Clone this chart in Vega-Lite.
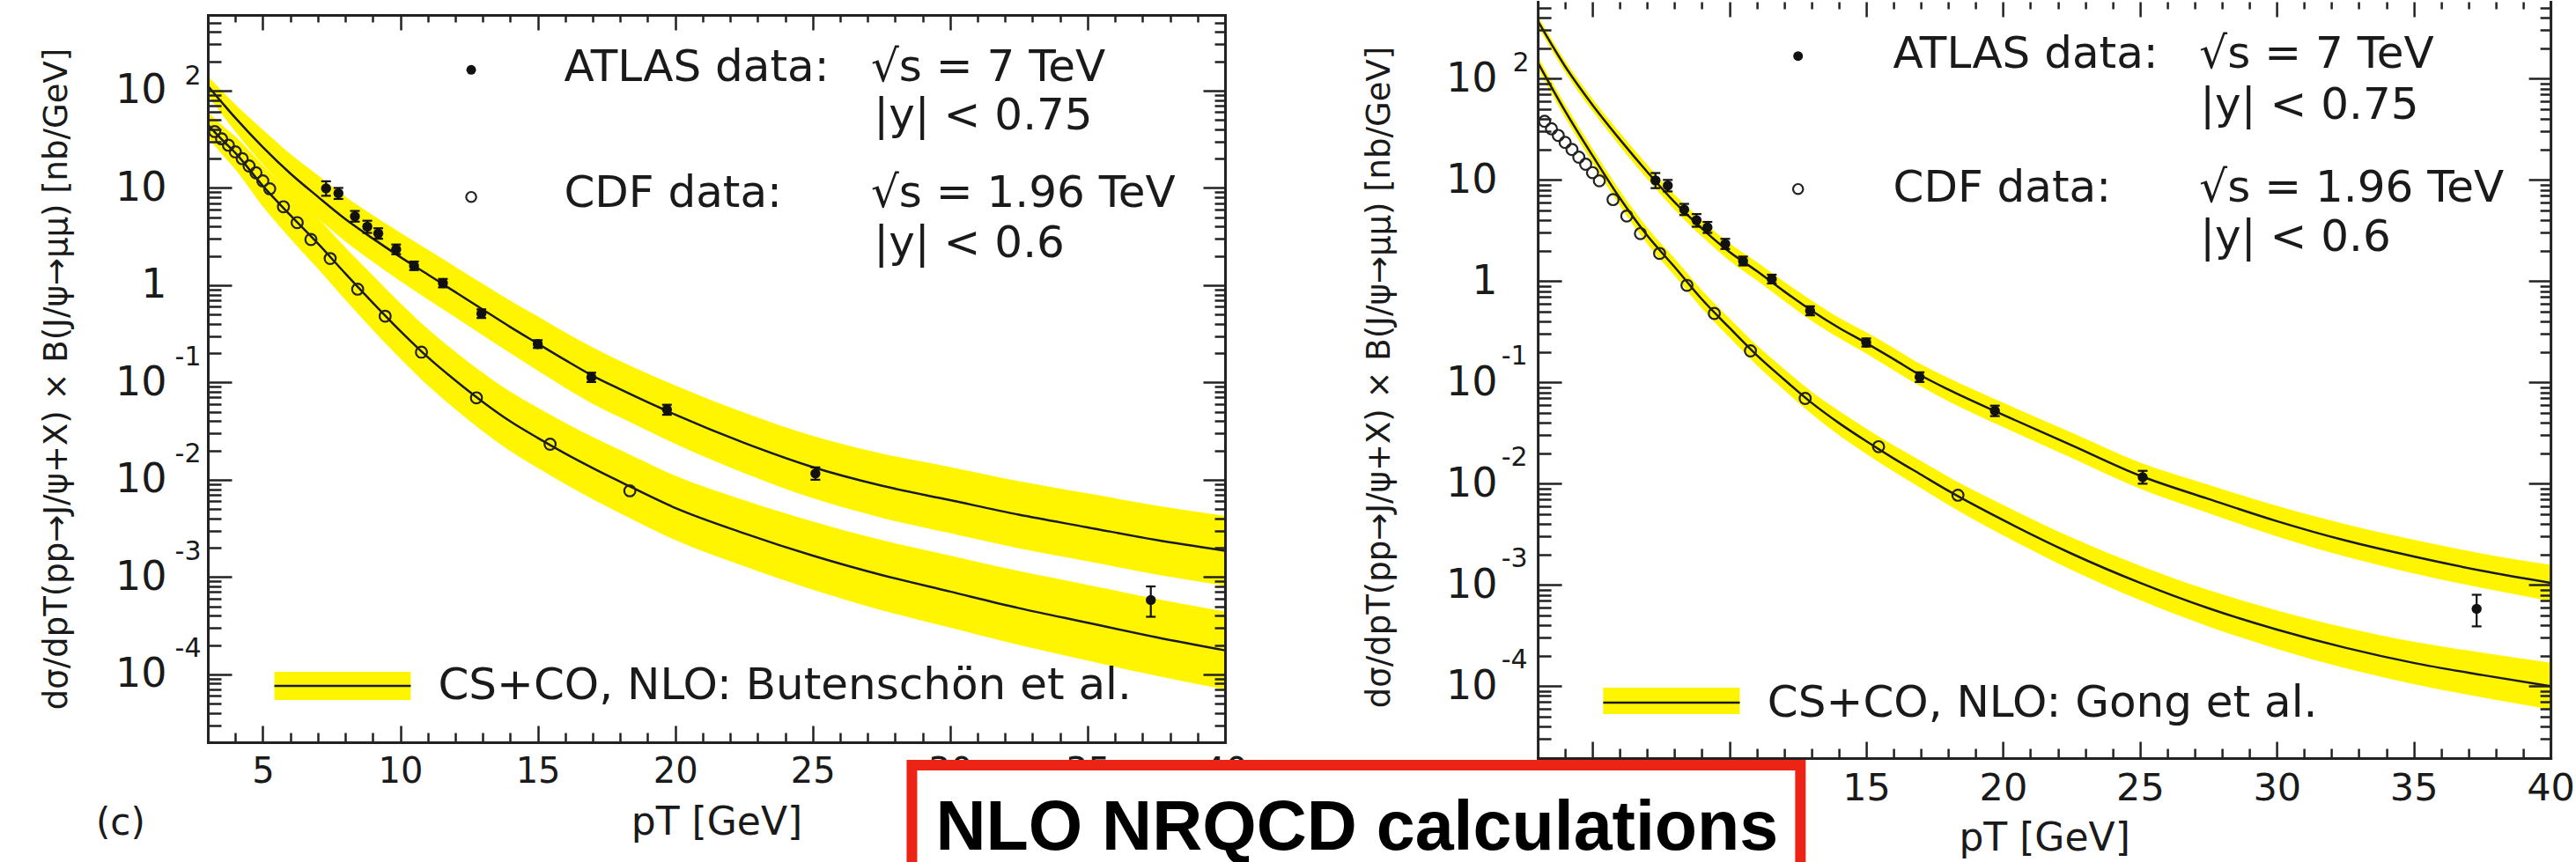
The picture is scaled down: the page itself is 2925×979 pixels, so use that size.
{
"$schema":"https://vega.github.io/schema/vega-lite/v6.json",
"background":"white",
"padding":{"left":45,"top":0,"right":0,"bottom":0},
"config":{
 "view":{"stroke":null},
 "axis":{"minExtent":0,"grid":false,"labelFlush":false,"labelOverlap":false,"labelBound":false,"tickColor":"#222","tickWidth":2.5,"domainColor":"#222","domainWidth":3,"domainCap":"square","labelFont":"DejaVu Sans","titleFont":"DejaVu Sans","labelColor":"#1a1a1a","titleColor":"#1a1a1a","titleFontWeight":"normal","titlePadding":0},
 "axisX":{"minExtent":0},
 "axisY":{"minExtent":0}
},
"datasets":{
 "atlas":[
  {"pT":7.3,"y":9.9,"ylo":8.3,"yhi":11.7},
  {"pT":7.75,"y":8.8,"ylo":7.7,"yhi":10.0},
  {"pT":8.35,"y":5.1,"ylo":4.5,"yhi":5.8},
  {"pT":8.8,"y":4.0,"ylo":3.45,"yhi":4.6},
  {"pT":9.2,"y":3.4,"ylo":3.0,"yhi":3.85},
  {"pT":9.85,"y":2.33,"ylo":2.08,"yhi":2.62},
  {"pT":10.5,"y":1.58,"ylo":1.43,"yhi":1.75},
  {"pT":11.55,"y":1.05,"ylo":0.95,"yhi":1.16},
  {"pT":12.95,"y":0.51,"ylo":0.46,"yhi":0.565},
  {"pT":15.0,"y":0.248,"ylo":0.226,"yhi":0.272},
  {"pT":16.95,"y":0.113,"ylo":0.101,"yhi":0.126},
  {"pT":19.7,"y":0.0525,"ylo":0.0465,"yhi":0.059},
  {"pT":25.1,"y":0.0116,"ylo":0.01,"yhi":0.0134},
  {"pT":37.3,"y":0.00058,"ylo":0.00039,"yhi":0.0008}
 ],
 "cdf":[
  {"pT":3.25,"y":38},{"pT":3.5,"y":32},{"pT":3.75,"y":27.5},{"pT":4.0,"y":23.5},
  {"pT":4.25,"y":20},{"pT":4.5,"y":16.8},{"pT":4.75,"y":14.3},{"pT":5.0,"y":11.8},
  {"pT":5.25,"y":9.8},{"pT":5.75,"y":6.4},{"pT":6.25,"y":4.4},{"pT":6.75,"y":2.95},
  {"pT":7.45,"y":1.88},{"pT":8.45,"y":0.91},{"pT":9.45,"y":0.48},{"pT":10.77,"y":0.205},
  {"pT":12.77,"y":0.0695},{"pT":15.45,"y":0.0232},{"pT":18.35,"y":0.0077}
 ],
 "bu_atlas":[
  {"pT":3,"y":112.2,"lo":89.1,"hi":141},
  {"pT":4,"y":52.5,"lo":38.0,"hi":72.4},
  {"pT":5,"y":26.3,"lo":17.4,"hi":39.8},
  {"pT":6,"y":14.1,"lo":8.91,"hi":22.4},
  {"pT":7,"y":8.13,"lo":4.9,"hi":13.5},
  {"pT":8,"y":4.79,"lo":2.82,"hi":8.13},
  {"pT":9,"y":3.02,"lo":1.74,"hi":5.25},
  {"pT":10,"y":1.95,"lo":1.1,"hi":3.47},
  {"pT":11,"y":1.29,"lo":0.716,"hi":2.32},
  {"pT":12,"y":0.851,"lo":0.468,"hi":1.55},
  {"pT":13,"y":0.562,"lo":0.305,"hi":1.035},
  {"pT":14,"y":0.372,"lo":0.2,"hi":0.692},
  {"pT":15,"y":0.251,"lo":0.132,"hi":0.479},
  {"pT":16,"y":0.17,"lo":0.0881,"hi":0.327},
  {"pT":17,"y":0.117,"lo":0.0603,"hi":0.229},
  {"pT":18,"y":0.0851,"lo":0.0437,"hi":0.166},
  {"pT":20,"y":0.0468,"lo":0.0234,"hi":0.0933},
  {"pT":22.5,"y":0.024,"lo":0.0117,"hi":0.049},
  {"pT":25,"y":0.0135,"lo":0.00646,"hi":0.0282},
  {"pT":27.5,"y":0.00871,"lo":0.00407,"hi":0.0186},
  {"pT":30,"y":0.00617,"lo":0.00282,"hi":0.0135},
  {"pT":32.5,"y":0.00437,"lo":0.00197,"hi":0.00966},
  {"pT":35,"y":0.00324,"lo":0.00145,"hi":0.00724},
  {"pT":37.5,"y":0.0024,"lo":0.00106,"hi":0.00543},
  {"pT":40,"y":0.00186,"lo":0.000813,"hi":0.00427}
 ],
 "bu_cdf":[
  {"pT":3,"y":44.7,"lo":33.1,"hi":60.3},
  {"pT":3.5,"y":31.6,"lo":22.4,"hi":44.7},
  {"pT":4,"y":22.9,"lo":15.5,"hi":33.9},
  {"pT":5,"y":10.5,"lo":6.46,"hi":17.0},
  {"pT":6,"y":5.25,"lo":3.02,"hi":9.12},
  {"pT":7,"y":2.69,"lo":1.48,"hi":4.9},
  {"pT":8,"y":1.32,"lo":0.708,"hi":2.45},
  {"pT":9,"y":0.661,"lo":0.347,"hi":1.26},
  {"pT":10,"y":0.339,"lo":0.176,"hi":0.653},
  {"pT":11,"y":0.182,"lo":0.0933,"hi":0.355},
  {"pT":12,"y":0.105,"lo":0.0531,"hi":0.207},
  {"pT":13,"y":0.0631,"lo":0.0316,"hi":0.126},
  {"pT":14,"y":0.0398,"lo":0.0197,"hi":0.0804},
  {"pT":15,"y":0.0269,"lo":0.0132,"hi":0.055},
  {"pT":16,"y":0.0186,"lo":0.00902,"hi":0.0385},
  {"pT":17,"y":0.0132,"lo":0.00631,"hi":0.0275},
  {"pT":18,"y":0.00955,"lo":0.00452,"hi":0.0202},
  {"pT":20,"y":0.00513,"lo":0.0024,"hi":0.011},
  {"pT":22.5,"y":0.00282,"lo":0.00129,"hi":0.00617},
  {"pT":25,"y":0.00166,"lo":0.000741,"hi":0.00372},
  {"pT":27.5,"y":0.00105,"lo":0.000457,"hi":0.0024},
  {"pT":30,"y":0.000708,"lo":0.000302,"hi":0.00166},
  {"pT":32.5,"y":0.000479,"lo":0.0002,"hi":0.00115},
  {"pT":35,"y":0.000339,"lo":0.000138,"hi":0.000832},
  {"pT":37.5,"y":0.00024,"lo":0.0000966,"hi":0.000596},
  {"pT":40,"y":0.000176,"lo":0.00007,"hi":0.000442}
 ],
 "go_atlas":[
  {"pT":3,"y":372,"lo":331,"hi":417},
  {"pT":4,"y":132,"lo":116,"hi":150},
  {"pT":5,"y":55.0,"lo":47.9,"hi":63.1},
  {"pT":6,"y":25.1,"lo":21.6,"hi":29.2},
  {"pT":7,"y":12.0,"lo":10.2,"hi":14.1},
  {"pT":8,"y":6.03,"lo":5.07,"hi":7.16},
  {"pT":9,"y":3.31,"lo":2.75,"hi":3.98},
  {"pT":10,"y":1.95,"lo":1.6,"hi":2.37},
  {"pT":11,"y":1.26,"lo":1.02,"hi":1.55},
  {"pT":12,"y":0.794,"lo":0.638,"hi":0.989},
  {"pT":13,"y":0.513,"lo":0.407,"hi":0.646},
  {"pT":14,"y":0.347,"lo":0.275,"hi":0.437},
  {"pT":15,"y":0.245,"lo":0.193,"hi":0.313},
  {"pT":16,"y":0.17,"lo":0.132,"hi":0.219},
  {"pT":17,"y":0.117,"lo":0.0912,"hi":0.151},
  {"pT":18,"y":0.0851,"lo":0.0653,"hi":0.111},
  {"pT":20,"y":0.0479,"lo":0.0363,"hi":0.0631},
  {"pT":22.5,"y":0.024,"lo":0.018,"hi":0.032},
  {"pT":25,"y":0.012,"lo":0.00891,"hi":0.0162},
  {"pT":27.5,"y":0.00708,"lo":0.00513,"hi":0.00977},
  {"pT":30,"y":0.00427,"lo":0.00302,"hi":0.00603},
  {"pT":32.5,"y":0.00275,"lo":0.00191,"hi":0.00398},
  {"pT":35,"y":0.00191,"lo":0.0013,"hi":0.00279},
  {"pT":37.5,"y":0.00138,"lo":0.000933,"hi":0.00204},
  {"pT":40,"y":0.00105,"lo":0.000692,"hi":0.00158}
 ],
 "go_cdf":[
  {"pT":3,"y":145,"lo":126,"hi":166},
  {"pT":4,"y":47.9,"lo":41.2,"hi":55.6},
  {"pT":5,"y":17.4,"lo":14.8,"hi":20.4},
  {"pT":6,"y":6.61,"lo":5.56,"hi":7.85},
  {"pT":7,"y":2.82,"lo":2.34,"hi":3.39},
  {"pT":8,"y":1.38,"lo":1.135,"hi":1.68},
  {"pT":9,"y":0.661,"lo":0.537,"hi":0.813},
  {"pT":10,"y":0.347,"lo":0.279,"hi":0.431},
  {"pT":11,"y":0.186,"lo":0.148,"hi":0.234},
  {"pT":12,"y":0.107,"lo":0.0841,"hi":0.136},
  {"pT":13,"y":0.0631,"lo":0.049,"hi":0.0813},
  {"pT":14,"y":0.0398,"lo":0.0302,"hi":0.0525},
  {"pT":15,"y":0.0263,"lo":0.0197,"hi":0.0351},
  {"pT":16,"y":0.0178,"lo":0.0132,"hi":0.024},
  {"pT":17,"y":0.0123,"lo":0.00902,"hi":0.0168},
  {"pT":18,"y":0.00851,"lo":0.00617,"hi":0.0117},
  {"pT":20,"y":0.00437,"lo":0.00309,"hi":0.00617},
  {"pT":22.5,"y":0.00204,"lo":0.00141,"hi":0.00295},
  {"pT":25,"y":0.00105,"lo":0.000708,"hi":0.00155},
  {"pT":27.5,"y":0.000589,"lo":0.000389,"hi":0.000891},
  {"pT":30,"y":0.000363,"lo":0.000234,"hi":0.000562},
  {"pT":32.5,"y":0.00024,"lo":0.000151,"hi":0.00038},
  {"pT":35,"y":0.00017,"lo":0.000105,"hi":0.000275},
  {"pT":37.5,"y":0.000129,"lo":0.0000776,"hi":0.000214},
  {"pT":40,"y":0.0001,"lo":0.0000589,"hi":0.00017}
 ],
 "leg_bu_text":[
  {"pT":15.955,"y":125.7,"label":"ATLAS data:"},
  {"pT":27.12,"y":125.7,"label":"√s = 7 TeV"},
  {"pT":27.23,"y":39.95,"label":"|y| < 0.75"},
  {"pT":15.955,"y":6.38,"label":"CDF data:"},
  {"pT":27.12,"y":6.38,"label":"√s = 1.96 TeV"},
  {"pT":27.23,"y":1.945,"label":"|y| < 0.6"},
  {"pT":11.374,"y":0.0000555,"label":"CS+CO, NLO: Butenschön et al."}
 ],
 "leg_go_text":[
  {"pT":15.98,"y":128.1,"label":"ATLAS data:"},
  {"pT":27.17,"y":128.1,"label":"√s = 7 TeV"},
  {"pT":27.2,"y":40.1,"label":"|y| < 0.75"},
  {"pT":15.98,"y":6.11,"label":"CDF data:"},
  {"pT":27.17,"y":6.11,"label":"√s = 1.96 TeV"},
  {"pT":27.2,"y":1.99,"label":"|y| < 0.6"},
  {"pT":11.39,"y":0.0000503,"label":"CS+CO, NLO: Gong et al."}
 ]
},
"hconcat":[
 {
  "width":1155,"height":841,
  "resolve":{"axis":{"x":"independent","y":"independent"}},
  "layer":[
   {"data":{"name":"bu_atlas"},"mark":{"type":"area","color":"#FFF500","interpolate":"monotone"},
    "encoding":{
     "x":{"field":"pT","type":"quantitative","scale":{"domain":[3,40],"nice":false,"zero":false},
      "axis":{"orient":"bottom","values":[5,10,15,20,25,30,35,40],"ticks":false,"domain":false,"labelFontSize":40,"labelPadding":13,"title":"pT [GeV]","titleFontSize":44,"titleX":577.5,"titleY":104,"titleBaseline":"alphabetic","titleAlign":"center","zindex":0}},
     "y":{"field":"lo","type":"quantitative","scale":{"type":"log","domain":[0.00002,600],"range":[841,15],"nice":false},
      "axis":{"orient":"left","values":[0.0001,0.001,0.01,0.1,1,10,100],"ticks":false,"domain":false,"labelExpr":"datum.value == 1 ? '1' : '10'","labelFontSize":46,"labelPadding":47,"labelBaseline":"middle","title":"dσ/dpT(pp→J/ψ+X) × B(J/ψ→μμ)  [nb/GeV]","titleFontSize":37,"titleX":-152.6,"titleY":428,"titleAngle":270,"titleBaseline":"bottom","titleAlign":"center","zindex":0}},
     "y2":{"field":"hi"}}},
   {"data":{"name":"bu_cdf"},"mark":{"type":"area","color":"#FFF500","interpolate":"monotone"},
    "encoding":{
     "x":{"field":"pT","type":"quantitative","scale":{"domain":[3,40],"nice":false,"zero":false},
      "axis":{"orient":"bottom","values":[5,10,15,20,25,30,35,40],"labels":false,"tickSize":-19,"domain":true,"title":"(c)","titleFontSize":42,"titleX":-99.6,"titleY":104,"titleBaseline":"alphabetic","titleAlign":"center","zindex":1}},
     "y":{"field":"lo","type":"quantitative","scale":{"type":"log","domain":[0.00002,600],"range":[841,15],"nice":false},
      "axis":{"orient":"left","values":[0.0001,0.001,0.01,0.1,1,10,100],"labels":false,"tickSize":-27,"domain":true,"title":null,"zindex":1}},
     "y2":{"field":"hi"}}},
   {"data":{"name":"bu_atlas"},"mark":{"type":"line","color":"#1a1a1a","strokeWidth":2.5,"interpolate":"monotone"},
    "encoding":{
     "x":{"field":"pT","type":"quantitative","scale":{"domain":[3,40],"nice":false,"zero":false},
      "axis":{"orient":"bottom","values":[4,6,7,8,9,11,12,13,14,16,17,18,19,21,22,23,24,26,27,28,29,31,32,33,34,36,37,38,39],"labels":false,"tickSize":-11,"domain":false,"title":null,"zindex":1}},
     "y":{"field":"y","type":"quantitative","scale":{"type":"log","domain":[0.00002,600],"range":[841,15],"nice":false},
      "axis":{"orient":"left","values":[0.00003,0.00004,0.00005,0.00006,0.00007,0.00008,0.00009,0.0002,0.0003,0.0004,0.0005,0.0006,0.0007,0.0008,0.0009,0.002,0.003,0.004,0.005,0.006,0.007,0.008,0.009,0.02,0.03,0.04,0.05,0.06,0.07,0.08,0.09,0.2,0.3,0.4,0.5,0.6,0.7,0.8,0.9,2,3,4,5,6,7,8,9,20,30,40,50,60,70,80,90,200,300,400,500],"labels":false,"tickSize":-15,"domain":false,"title":null,"zindex":1}}}},
   {"data":{"name":"bu_cdf"},"mark":{"type":"line","color":"#1a1a1a","strokeWidth":2.5,"interpolate":"monotone"},
    "encoding":{
     "x":{"field":"pT","type":"quantitative","scale":{"domain":[3,40],"nice":false,"zero":false},
      "axis":{"orient":"top","offset":-15,"values":[5,10,15,20,25,30,35,40],"labels":false,"tickSize":-17,"domain":true,"title":null,"zindex":1}},
     "y":{"field":"y","type":"quantitative","scale":{"type":"log","domain":[0.00002,600],"range":[841,15],"nice":false},
      "axis":{"orient":"right","values":[0.0001,0.001,0.01,0.1,1,10,100],"labels":false,"tickSize":-25,"domain":true,"title":null,"zindex":1}}}},
   {"data":{"name":"atlas"},"mark":{"type":"rule","color":"#111","strokeWidth":2.2},
    "encoding":{
     "x":{"field":"pT","type":"quantitative","scale":{"domain":[3,40],"nice":false,"zero":false},
      "axis":{"orient":"top","offset":-15,"values":[4,6,7,8,9,11,12,13,14,16,17,18,19,21,22,23,24,26,27,28,29,31,32,33,34,36,37,38,39],"labels":false,"tickSize":-8,"domain":false,"title":null,"zindex":1}},
     "y":{"field":"ylo","type":"quantitative","scale":{"type":"log","domain":[0.00002,600],"range":[841,15],"nice":false},
      "axis":{"orient":"right","values":[0.00003,0.00004,0.00005,0.00006,0.00007,0.00008,0.00009,0.0002,0.0003,0.0004,0.0005,0.0006,0.0007,0.0008,0.0009,0.002,0.003,0.004,0.005,0.006,0.007,0.008,0.009,0.02,0.03,0.04,0.05,0.06,0.07,0.08,0.09,0.2,0.3,0.4,0.5,0.6,0.7,0.8,0.9,2,3,4,5,6,7,8,9,20,30,40,50,60,70,80,90,200,300,400,500],"labels":false,"tickSize":-12,"domain":false,"title":null,"zindex":1}},
     "y2":{"field":"yhi"}}},
   {"data":{"name":"atlas"},"mark":{"type":"tick","orient":"horizontal","size":11,"thickness":2.2,"color":"#111","opacity":1},
    "encoding":{
     "x":{"field":"pT","type":"quantitative","scale":{"domain":[3,40],"nice":false,"zero":false},"axis":null},
     "y":{"field":"ylo","type":"quantitative","scale":{"type":"log","domain":[0.00002,600],"range":[841,15],"nice":false},
      "axis":{"orient":"left","values":[100],"ticks":false,"domain":false,"labelExpr":"'2'","labelFontSize":30,"labelPadding":8,"labelOffset":-16,"labelBaseline":"middle","title":null}}}},
   {"data":{"name":"atlas"},"mark":{"type":"tick","orient":"horizontal","size":11,"thickness":2.2,"color":"#111","opacity":1},
    "encoding":{
     "x":{"field":"pT","type":"quantitative","scale":{"domain":[3,40],"nice":false,"zero":false},"axis":null},
     "y":{"field":"yhi","type":"quantitative","scale":{"type":"log","domain":[0.00002,600],"range":[841,15],"nice":false},
      "axis":{"orient":"left","values":[0.0001,0.001,0.01,0.1],"ticks":false,"domain":false,"labelExpr":"datum.value < 0.0005 ? '-4' : datum.value < 0.005 ? '-3' : datum.value < 0.05 ? '-2' : '-1'","labelFontSize":30,"labelPadding":8,"labelOffset":-29,"labelBaseline":"middle","title":null}}}},
   {"data":{"name":"atlas"},"mark":{"type":"point","shape":"circle","filled":true,"size":130,"color":"#111","opacity":1},
    "encoding":{
     "x":{"field":"pT","type":"quantitative","scale":{"domain":[3,40],"nice":false,"zero":false},"axis":null},
     "y":{"field":"y","type":"quantitative","scale":{"type":"log","domain":[0.00002,600],"range":[841,15],"nice":false},"axis":null}}},
   {"data":{"name":"cdf"},"mark":{"type":"point","shape":"circle","filled":false,"size":160,"color":"#222","strokeWidth":2.2,"opacity":1},
    "encoding":{
     "x":{"field":"pT","type":"quantitative","scale":{"domain":[3,40],"nice":false,"zero":false},"axis":null},
     "y":{"field":"y","type":"quantitative","scale":{"type":"log","domain":[0.00002,600],"range":[841,15],"nice":false},"axis":null}}},
   {"data":{"values":[{"pT":5.42,"pT2":10.38,"lo":0.0000544,"hi":0.000106}]},"mark":{"type":"rect","color":"#FFF500"},
    "encoding":{
     "x":{"field":"pT","type":"quantitative","scale":{"domain":[3,40],"nice":false,"zero":false},"axis":null},
     "x2":{"field":"pT2"},
     "y":{"field":"lo","type":"quantitative","scale":{"type":"log","domain":[0.00002,600],"range":[841,15],"nice":false},"axis":null},
     "y2":{"field":"hi"}}},
   {"data":{"values":[{"pT":5.42,"pT2":10.38,"y":0.0000759}]},"mark":{"type":"rule","color":"#1a1a1a","strokeWidth":2.5},
    "encoding":{
     "x":{"field":"pT","type":"quantitative","scale":{"domain":[3,40],"nice":false,"zero":false},"axis":null},
     "x2":{"field":"pT2"},
     "y":{"field":"y","type":"quantitative","scale":{"type":"log","domain":[0.00002,600],"range":[841,15],"nice":false},"axis":null}}},
   {"data":{"values":[{"pT":12.58,"y":163.8}]},"mark":{"type":"point","shape":"circle","filled":true,"size":120,"color":"#111","opacity":1},
    "encoding":{
     "x":{"field":"pT","type":"quantitative","scale":{"domain":[3,40],"nice":false,"zero":false},"axis":null},
     "y":{"field":"y","type":"quantitative","scale":{"type":"log","domain":[0.00002,600],"range":[841,15],"nice":false},"axis":null}}},
   {"data":{"values":[{"pT":12.58,"y":8.07}]},"mark":{"type":"point","shape":"circle","filled":false,"size":130,"color":"#222","strokeWidth":2.2,"opacity":1},
    "encoding":{
     "x":{"field":"pT","type":"quantitative","scale":{"domain":[3,40],"nice":false,"zero":false},"axis":null},
     "y":{"field":"y","type":"quantitative","scale":{"type":"log","domain":[0.00002,600],"range":[841,15],"nice":false},"axis":null}}},
   {"data":{"name":"leg_bu_text"},"mark":{"type":"text","font":"DejaVu Sans","fontSize":50,"align":"left","baseline":"alphabetic","color":"#1a1a1a"},
    "encoding":{
     "x":{"field":"pT","type":"quantitative","scale":{"domain":[3,40],"nice":false,"zero":false},"axis":null},
     "y":{"field":"y","type":"quantitative","scale":{"type":"log","domain":[0.00002,600],"range":[841,15],"nice":false},"axis":null},
     "text":{"field":"label"}}},
   {"data":{"values":[{"pT":28.61,"pT2":60.93,"ytop":0.00001163,"ybot":0.000000727}]},"mark":{"type":"rect","fill":"white","stroke":"#EC2415","strokeWidth":12},
    "encoding":{
     "x":{"field":"pT","type":"quantitative","scale":{"domain":[3,40],"nice":false,"zero":false},"axis":null},
     "x2":{"field":"pT2"},
     "y":{"field":"ytop","type":"quantitative","scale":{"type":"log","domain":[0.00002,600],"range":[841,15],"nice":false},"axis":null},
     "y2":{"field":"ybot"}}},
   {"data":{"values":[{"pT":44.8,"y":0.000001573,"label":"NLO NRQCD calculations"}]},"mark":{"type":"text","font":"Liberation Sans","fontWeight":"bold","fontSize":79,"align":"center","baseline":"alphabetic","color":"#000"},
    "encoding":{
     "x":{"field":"pT","type":"quantitative","scale":{"domain":[3,40],"nice":false,"zero":false},"axis":null},
     "y":{"field":"y","type":"quantitative","scale":{"type":"log","domain":[0.00002,600],"range":[841,15],"nice":false},"axis":null},
     "text":{"field":"label"}}}
  ]
 },
 {
  "width":1150,"height":859,
  "resolve":{"axis":{"x":"independent","y":"independent"}},
  "layer":[
   {"data":{"name":"go_atlas"},"mark":{"type":"area","color":"#FFF500","interpolate":"monotone"},
    "encoding":{
     "x":{"field":"pT","type":"quantitative","scale":{"domain":[3,40],"nice":false,"zero":false},
      "axis":{"orient":"bottom","values":[15,20,25,30,35,40],"ticks":false,"domain":false,"labelFontSize":43,"labelPadding":13,"title":"pT [GeV]","titleFontSize":44,"titleX":575,"titleY":104,"titleBaseline":"alphabetic","titleAlign":"center","zindex":0}},
     "y":{"field":"lo","type":"quantitative","scale":{"type":"log","domain":[0.0000195,575],"nice":false},
      "axis":{"orient":"left","values":[0.0001,0.001,0.01,0.1,1,10,100],"ticks":false,"domain":false,"labelExpr":"datum.value == 1 ? '1' : '10'","labelFontSize":46,"labelPadding":46,"labelBaseline":"middle","title":"dσ/dpT(pp→J/ψ+X) × B(J/ψ→μμ)  [nb/GeV]","titleFontSize":37,"titleX":-160.7,"titleY":426,"titleAngle":270,"titleBaseline":"bottom","titleAlign":"center","zindex":0}},
     "y2":{"field":"hi"}}},
   {"data":{"name":"go_cdf"},"mark":{"type":"area","color":"#FFF500","interpolate":"monotone"},
    "encoding":{
     "x":{"field":"pT","type":"quantitative","scale":{"domain":[3,40],"nice":false,"zero":false},
      "axis":{"orient":"bottom","values":[5,10,15,20,25,30,35,40],"labels":false,"tickSize":-19,"domain":true,"title":null,"zindex":1}},
     "y":{"field":"lo","type":"quantitative","scale":{"type":"log","domain":[0.0000195,575],"nice":false},
      "axis":{"orient":"left","values":[0.0001,0.001,0.01,0.1,1,10,100],"labels":false,"tickSize":-27,"domain":true,"title":null,"zindex":1}},
     "y2":{"field":"hi"}}},
   {"data":{"name":"go_atlas"},"mark":{"type":"line","color":"#1a1a1a","strokeWidth":2.5,"interpolate":"monotone"},
    "encoding":{
     "x":{"field":"pT","type":"quantitative","scale":{"domain":[3,40],"nice":false,"zero":false},
      "axis":{"orient":"bottom","values":[4,6,7,8,9,11,12,13,14,16,17,18,19,21,22,23,24,26,27,28,29,31,32,33,34,36,37,38,39],"labels":false,"tickSize":-11,"domain":false,"title":null,"zindex":1}},
     "y":{"field":"y","type":"quantitative","scale":{"type":"log","domain":[0.0000195,575],"nice":false},
      "axis":{"orient":"left","values":[0.00003,0.00004,0.00005,0.00006,0.00007,0.00008,0.00009,0.0002,0.0003,0.0004,0.0005,0.0006,0.0007,0.0008,0.0009,0.002,0.003,0.004,0.005,0.006,0.007,0.008,0.009,0.02,0.03,0.04,0.05,0.06,0.07,0.08,0.09,0.2,0.3,0.4,0.5,0.6,0.7,0.8,0.9,2,3,4,5,6,7,8,9,20,30,40,50,60,70,80,90,200,300,400,500],"labels":false,"tickSize":-15,"domain":false,"title":null,"zindex":1}}}},
   {"data":{"name":"go_cdf"},"mark":{"type":"line","color":"#1a1a1a","strokeWidth":2.5,"interpolate":"monotone"},
    "encoding":{
     "x":{"field":"pT","type":"quantitative","scale":{"domain":[3,40],"nice":false,"zero":false},
      "axis":{"orient":"top","values":[5,10,15,20,25,30,35,40],"labels":false,"tickSize":-17,"domain":false,"title":null,"zindex":1}},
     "y":{"field":"y","type":"quantitative","scale":{"type":"log","domain":[0.0000195,575],"nice":false},
      "axis":{"orient":"right","values":[0.0001,0.001,0.01,0.1,1,10,100],"labels":false,"tickSize":-25,"domain":true,"title":null,"zindex":1}}}},
   {"data":{"name":"atlas"},"mark":{"type":"rule","color":"#111","strokeWidth":2.2},
    "encoding":{
     "x":{"field":"pT","type":"quantitative","scale":{"domain":[3,40],"nice":false,"zero":false},
      "axis":{"orient":"top","values":[4,6,7,8,9,11,12,13,14,16,17,18,19,21,22,23,24,26,27,28,29,31,32,33,34,36,37,38,39],"labels":false,"tickSize":-8,"domain":false,"title":null,"zindex":1}},
     "y":{"field":"ylo","type":"quantitative","scale":{"type":"log","domain":[0.0000195,575],"nice":false},
      "axis":{"orient":"right","values":[0.00003,0.00004,0.00005,0.00006,0.00007,0.00008,0.00009,0.0002,0.0003,0.0004,0.0005,0.0006,0.0007,0.0008,0.0009,0.002,0.003,0.004,0.005,0.006,0.007,0.008,0.009,0.02,0.03,0.04,0.05,0.06,0.07,0.08,0.09,0.2,0.3,0.4,0.5,0.6,0.7,0.8,0.9,2,3,4,5,6,7,8,9,20,30,40,50,60,70,80,90,200,300,400,500],"labels":false,"tickSize":-12,"domain":false,"title":null,"zindex":1}},
     "y2":{"field":"yhi"}}},
   {"data":{"name":"atlas"},"mark":{"type":"tick","orient":"horizontal","size":11,"thickness":2.2,"color":"#111","opacity":1},
    "encoding":{
     "x":{"field":"pT","type":"quantitative","scale":{"domain":[3,40],"nice":false,"zero":false},"axis":null},
     "y":{"field":"ylo","type":"quantitative","scale":{"type":"log","domain":[0.0000195,575],"nice":false},
      "axis":{"orient":"left","values":[100],"ticks":false,"domain":false,"labelExpr":"'2'","labelFontSize":30,"labelPadding":10,"labelOffset":-18,"labelBaseline":"middle","title":null}}}},
   {"data":{"name":"atlas"},"mark":{"type":"tick","orient":"horizontal","size":11,"thickness":2.2,"color":"#111","opacity":1},
    "encoding":{
     "x":{"field":"pT","type":"quantitative","scale":{"domain":[3,40],"nice":false,"zero":false},"axis":null},
     "y":{"field":"yhi","type":"quantitative","scale":{"type":"log","domain":[0.0000195,575],"nice":false},
      "axis":{"orient":"left","values":[0.0001,0.001,0.01,0.1],"ticks":false,"domain":false,"labelExpr":"datum.value < 0.0005 ? '-4' : datum.value < 0.005 ? '-3' : datum.value < 0.05 ? '-2' : '-1'","labelFontSize":30,"labelPadding":12,"labelOffset":-30,"labelBaseline":"middle","title":null}}}},
   {"data":{"name":"atlas"},"mark":{"type":"point","shape":"circle","filled":true,"size":130,"color":"#111","opacity":1},
    "encoding":{
     "x":{"field":"pT","type":"quantitative","scale":{"domain":[3,40],"nice":false,"zero":false},"axis":null},
     "y":{"field":"y","type":"quantitative","scale":{"type":"log","domain":[0.0000195,575],"nice":false},"axis":null}}},
   {"data":{"name":"cdf"},"mark":{"type":"point","shape":"circle","filled":false,"size":160,"color":"#222","strokeWidth":2.2,"opacity":1},
    "encoding":{
     "x":{"field":"pT","type":"quantitative","scale":{"domain":[3,40],"nice":false,"zero":false},"axis":null},
     "y":{"field":"y","type":"quantitative","scale":{"type":"log","domain":[0.0000195,575],"nice":false},"axis":null}}},
   {"data":{"values":[{"pT":5.39,"pT2":10.38,"lo":0.0000531,"hi":0.0000968}]},"mark":{"type":"rect","color":"#FFF500"},
    "encoding":{
     "x":{"field":"pT","type":"quantitative","scale":{"domain":[3,40],"nice":false,"zero":false},"axis":null},
     "x2":{"field":"pT2"},
     "y":{"field":"lo","type":"quantitative","scale":{"type":"log","domain":[0.0000195,575],"nice":false},"axis":null},
     "y2":{"field":"hi"}}},
   {"data":{"values":[{"pT":5.39,"pT2":10.38,"y":0.0000688}]},"mark":{"type":"rule","color":"#1a1a1a","strokeWidth":2.5},
    "encoding":{
     "x":{"field":"pT","type":"quantitative","scale":{"domain":[3,40],"nice":false,"zero":false},"axis":null},
     "x2":{"field":"pT2"},
     "y":{"field":"y","type":"quantitative","scale":{"type":"log","domain":[0.0000195,575],"nice":false},"axis":null}}},
   {"data":{"values":[{"pT":12.51,"y":167.2}]},"mark":{"type":"point","shape":"circle","filled":true,"size":120,"color":"#111","opacity":1},
    "encoding":{
     "x":{"field":"pT","type":"quantitative","scale":{"domain":[3,40],"nice":false,"zero":false},"axis":null},
     "y":{"field":"y","type":"quantitative","scale":{"type":"log","domain":[0.0000195,575],"nice":false},"axis":null}}},
   {"data":{"values":[{"pT":12.51,"y":8.13}]},"mark":{"type":"point","shape":"circle","filled":false,"size":130,"color":"#222","strokeWidth":2.2,"opacity":1},
    "encoding":{
     "x":{"field":"pT","type":"quantitative","scale":{"domain":[3,40],"nice":false,"zero":false},"axis":null},
     "y":{"field":"y","type":"quantitative","scale":{"type":"log","domain":[0.0000195,575],"nice":false},"axis":null}}},
   {"data":{"name":"leg_go_text"},"mark":{"type":"text","font":"DejaVu Sans","fontSize":50,"align":"left","baseline":"alphabetic","color":"#1a1a1a"},
    "encoding":{
     "x":{"field":"pT","type":"quantitative","scale":{"domain":[3,40],"nice":false,"zero":false},"axis":null},
     "y":{"field":"y","type":"quantitative","scale":{"type":"log","domain":[0.0000195,575],"nice":false},"axis":null},
     "text":{"field":"label"}}}
  ]
 }
],
"spacing":355.1,
"bounds":"flush"
}
